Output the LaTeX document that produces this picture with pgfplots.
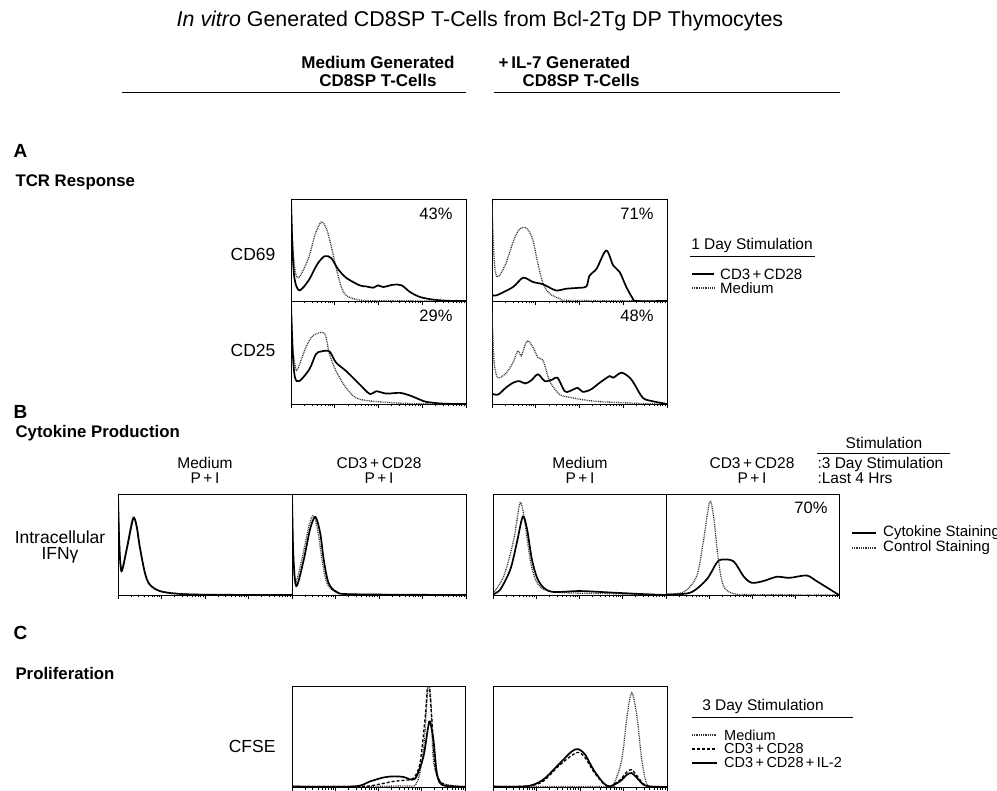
\documentclass[border=0pt]{standalone}
\usepackage{fontspec}
\setmainfont{Liberation Sans}
\usepackage{pgfplots}
\pgfplotsset{compat=1.18}
\newcommand\fs[1]{\fontsize{#1}{#1}\selectfont}
\tikzset{
 cs/.style={line width=1.7pt, black},
 cd/.style={line width=1.3pt, black!80, dash pattern=on 0.9pt off 0.9pt},
 cdash/.style={line width=1.3pt, black, dash pattern=on 3pt off 2pt},
 lg/.style={font=\fs{15}, anchor=west, inner sep=0pt},
 lgc/.style={font=\fs{14.5}, anchor=west, inner sep=0pt},
}
\pgfplotsset{
 facs/.style={scale only axis, anchor=north west, xmin=0, xmax=4, ymin=0, ymax=1,
   axis line style={line width=0.8pt},
   xtick={0,1,2,3,4},
   minor xtick={0.301,0.477,0.602,0.699,0.778,0.845,0.903,0.954,
                1.301,1.477,1.602,1.699,1.778,1.845,1.903,1.954,
                2.301,2.477,2.602,2.699,2.778,2.845,2.903,2.954,
                3.301,3.477,3.602,3.699,3.778,3.845,3.903,3.954},
   xticklabel=\empty, ytick=\empty,
   xtick pos=bottom, tick align=outside, major tick length=4pt, minor tick length=2.5pt,
   every tick/.style={black, line width=0.6pt},
   every axis plot/.append style={smooth, tension=0.5}},
}
\begin{document}
\begin{tikzpicture}[x=1pt,y=-1pt]
\useasboundingbox (0,0) rectangle (997,791);

% ---------------- Panel A ----------------
\begin{axis}[facs, at={(291pt,-199pt)}, width=175pt, height=102pt]
\addplot[cd] coordinates {(0,1.0) (0.04,0.55) (0.1,0.28) (0.19,0.235) (0.4,0.42) (0.55,0.65) (0.69,0.775) (0.8,0.72) (0.88,0.607) (1.03,0.33) (1.15,0.137) (1.26,0.055) (1.49,0.016) (1.88,0.003) (4,0)};
\addplot[cs] coordinates {(0,1.0) (0.03,0.55) (0.08,0.22) (0.19,0.104) (0.4,0.2) (0.6,0.36) (0.77,0.44) (0.92,0.42) (1.07,0.316) (1.26,0.228) (1.57,0.153) (1.72,0.143) (1.88,0.13) (1.99,0.153) (2.11,0.137) (2.34,0.16) (2.53,0.153) (2.72,0.088) (2.95,0.039) (3.26,0.013) (3.6,0.002) (4,0)};
\end{axis}
\begin{axis}[facs, at={(492pt,-199pt)}, width=175pt, height=102pt]
\addplot[cd] coordinates {(0,0.95) (0.05,0.4) (0.12,0.235) (0.3,0.35) (0.5,0.6) (0.62,0.7) (0.75,0.723) (0.85,0.68) (0.94,0.59) (1.05,0.365) (1.17,0.169) (1.32,0.072) (1.55,0.023) (1.8,0.005) (4,0)};
\addplot[cs] coordinates {(0,0.06) (0.1,0.055) (0.48,0.137) (0.71,0.228) (0.94,0.186) (1.17,0.163) (1.46,0.104) (1.69,0.12) (2.0,0.13) (2.16,0.143) (2.23,0.25) (2.39,0.316) (2.61,0.495) (2.77,0.349) (2.92,0.283) (3.07,0.137) (3.22,0.023) (3.3,0) (4,0)};
\end{axis}
\begin{axis}[facs, at={(291pt,-301pt)}, width=175pt, height=103pt]
\addplot[cd] coordinates {(0,0.97) (0.04,0.55) (0.1,0.36) (0.15,0.337) (0.34,0.549) (0.5,0.663) (0.73,0.696) (0.8,0.647) (0.88,0.484) (1.03,0.32) (1.26,0.157) (1.49,0.059) (1.88,0.026) (2.8,0.003) (4,0)};
\addplot[cs] coordinates {(0,0.97) (0.04,0.5) (0.09,0.26) (0.19,0.222) (0.42,0.337) (0.57,0.484) (0.69,0.51) (0.88,0.51) (1.03,0.402) (1.26,0.32) (1.57,0.19) (1.8,0.098) (1.95,0.124) (2.18,0.101) (2.49,0.108) (2.72,0.082) (2.95,0.042) (3.1,0.02) (3.5,0.003) (4,0)};
\end{axis}
\begin{axis}[facs, at={(492pt,-301pt)}, width=175pt, height=103pt]
\addplot[cd] coordinates {(0,0.9) (0.05,0.4) (0.14,0.255) (0.33,0.304) (0.48,0.402) (0.59,0.516) (0.67,0.467) (0.75,0.565) (0.82,0.614) (0.94,0.549) (1.05,0.451) (1.17,0.418) (1.32,0.222) (1.55,0.092) (1.85,0.059) (2.38,0.026) (3.5,0.003) (4,0)};
\addplot[cs] coordinates {(0,0.1) (0.14,0.092) (0.33,0.163) (0.5,0.21) (0.63,0.222) (0.76,0.199) (0.9,0.23) (1.05,0.288) (1.21,0.222) (1.39,0.239) (1.5,0.255) (1.66,0.124) (1.77,0.124) (1.96,0.157) (2.07,0.118) (2.26,0.141) (2.46,0.206) (2.69,0.271) (2.77,0.255) (2.96,0.304) (3.15,0.255) (3.26,0.189) (3.45,0.059) (3.68,0.026) (4,0)};
\end{axis}

% ---------------- Panel B ----------------
\begin{axis}[facs, at={(118pt,-494pt)}, width=174pt, height=101pt]
\addplot[cd] coordinates {(0,1.0) (0.03,0.55) (0.08,0.26) (0.2,0.47) (0.34,0.77) (0.42,0.68) (0.5,0.47) (0.62,0.21) (0.73,0.1) (0.96,0.04) (1.35,0.015) (2,0.004) (4,0)};
\addplot[cs] coordinates {(0,1.0) (0.03,0.5) (0.08,0.235) (0.2,0.45) (0.35,0.756) (0.43,0.68) (0.5,0.48) (0.62,0.218) (0.73,0.104) (0.96,0.039) (1.35,0.013) (2,0.003) (4,0)};
\end{axis}
\begin{axis}[facs, at={(292pt,-494pt)}, width=174pt, height=101pt]
\addplot[cd] coordinates {(0,1.0) (0.03,0.4) (0.08,0.12) (0.24,0.38) (0.4,0.7) (0.5,0.785) (0.6,0.62) (0.69,0.35) (0.8,0.12) (1.0,0.03) (1.4,0.007) (4,0)};
\addplot[cs] coordinates {(0,1.0) (0.03,0.4) (0.1,0.088) (0.27,0.349) (0.42,0.66) (0.54,0.772) (0.65,0.609) (0.73,0.349) (0.84,0.12) (1.03,0.03) (1.42,0.007) (4,0)};
\end{axis}
\begin{axis}[facs, at={(493pt,-494pt)}, width=173pt, height=101pt]
\addplot[cd] coordinates {(0,0.015) (0.25,0.187) (0.48,0.548) (0.63,0.915) (0.75,0.679) (0.86,0.351) (0.98,0.154) (1.17,0.056) (1.63,0.023) (2.8,0.013) (4,0)};
\addplot[cs] coordinates {(0,0.007) (0.17,0.056) (0.4,0.252) (0.55,0.515) (0.69,0.777) (0.79,0.646) (0.9,0.351) (1.02,0.17) (1.17,0.072) (1.4,0.03) (2.02,0.039) (2.79,0.023) (3.56,0.007) (4,0)};
\end{axis}
\begin{axis}[facs, at={(666pt,-494pt)}, width=173pt, height=101pt]
\addplot[cd] coordinates {(0,0.01) (0.41,0.03) (0.71,0.187) (0.87,0.548) (1.01,0.925) (1.1,0.777) (1.21,0.351) (1.33,0.089) (1.56,0.013) (2,0.003) (4,0)};
\addplot[cs] coordinates {(0,0.005) (0.56,0.023) (0.94,0.154) (1.17,0.318) (1.29,0.351) (1.56,0.334) (1.79,0.187) (1.98,0.121) (2.25,0.138) (2.56,0.18) (2.86,0.17) (3.25,0.193) (3.48,0.138) (3.79,0.056) (4,0)};
\end{axis}

% ---------------- Panel C ----------------
\begin{axis}[facs, at={(292pt,-686pt)}, width=173pt, height=101pt]
\addplot[cd] coordinates {(0,0.005) (2.5,0.01) (2.88,0.04) (3.04,0.37) (3.12,0.86) (3.16,1.05) (3.21,0.86) (3.27,0.27) (3.42,0.055) (3.73,0.013) (4,0.005)};
\addplot[cdash] coordinates {(0,0.005) (1.6,0.005) (1.96,0.023) (2.35,0.056) (2.58,0.066) (2.81,0.089) (2.96,0.237) (3.08,0.697) (3.15,1.05) (3.23,0.697) (3.31,0.204) (3.46,0.039) (3.8,0.005) (4,0.003)};
\addplot[cs] coordinates {(0,0.005) (1.42,0.005) (1.81,0.056) (2.12,0.095) (2.35,0.105) (2.58,0.099) (2.77,0.072) (2.88,0.105) (3.04,0.303) (3.15,0.599) (3.19,0.648) (3.27,0.467) (3.35,0.138) (3.46,0.023) (3.8,0.005) (4,0.003)};
\end{axis}
\begin{axis}[facs, at={(493pt,-686pt)}, width=174pt, height=101pt]
\addplot[cd] coordinates {(0,0.005) (2.6,0.005) (2.77,0.023) (2.96,0.27) (3.08,0.697) (3.19,0.934) (3.31,0.697) (3.42,0.27) (3.54,0.023) (3.7,0.005) (4,0)};
\addplot[cdash] coordinates {(0,0.005) (0.8,0.01) (1.15,0.056) (1.54,0.22) (1.92,0.34) (2.1,0.3) (2.31,0.155) (2.54,0.033) (2.69,0.007) (2.92,0.07) (3.08,0.15) (3.19,0.171) (3.31,0.11) (3.46,0.03) (3.62,0.005) (4,0)};
\addplot[cs] coordinates {(0,0.005) (0.77,0.007) (1.15,0.072) (1.54,0.237) (1.81,0.352) (1.96,0.375) (2.12,0.319) (2.31,0.171) (2.54,0.039) (2.69,0.007) (2.92,0.056) (3.08,0.122) (3.19,0.138) (3.31,0.089) (3.46,0.023) (3.62,0.005) (4,0)};
\end{axis}

% ---------------- Texts ----------------
\node[font=\fs{21.4}] at (480,21) {\textit{In vitro} Generated CD8SP T-Cells from Bcl-2Tg DP Thymocytes};
\node[font=\fs{17}\bfseries] at (378,62) {Medium Generated};
\node[font=\fs{17}\bfseries] at (378,80) {CD8SP T-Cells};
\node[font=\fs{17}\bfseries, anchor=west] at (495,62) {+\,IL-7 Generated};
\node[font=\fs{17}\bfseries, anchor=west] at (519,80) {CD8SP T-Cells};
\draw[line width=0.8pt] (122,92) -- (466,92);
\draw[line width=0.8pt] (494,92) -- (840,92);

\node[font=\fs{19}\bfseries, anchor=west] at (10,151) {A};
\node[font=\fs{16.8}\bfseries, anchor=west] at (12,182) {TCR Response};
\node[font=\fs{17.5}, anchor=east] at (279,254) {CD69};
\node[font=\fs{17.5}, anchor=east] at (279,350) {CD25};
\node[font=\fs{16.5}, anchor=east] at (456,214) {43\%};
\node[font=\fs{16.5}, anchor=east] at (657,214) {71\%};
\node[font=\fs{16.5}, anchor=east] at (456,316) {29\%};
\node[font=\fs{16.5}, anchor=east] at (657,316) {48\%};

\node[font=\fs{15.5}] at (752,245) {1 Day Stimulation};
\draw[line width=0.8pt] (690,256) -- (815,256);
\draw[cs,line width=1.4pt] (692,274) -- (714,274);
\node[lg] at (720,274) {CD3\,+\,CD28};
\draw[cd,line width=1.1pt] (692,288) -- (714,288);
\node[lg] at (720,288) {Medium};

\node[font=\fs{19}\bfseries, anchor=west] at (10,412) {B};
\node[font=\fs{16.8}\bfseries, anchor=west] at (12,433) {Cytokine Production};
\node[font=\fs{15.5}] at (205,463) {Medium};
\node[font=\fs{15.5}] at (205,478) {P\,+\,I};
\node[font=\fs{15.5}] at (379,463) {CD3\,+\,CD28};
\node[font=\fs{15.5}] at (379,478) {P\,+\,I};
\node[font=\fs{15.5}] at (580,463) {Medium};
\node[font=\fs{15.5}] at (580,478) {P\,+\,I};
\node[font=\fs{15.5}] at (752,463) {CD3\,+\,CD28};
\node[font=\fs{15.5}] at (752,478) {P\,+\,I};
\node[font=\fs{15.5}] at (884,443) {Stimulation};
\draw[line width=0.8pt] (817,453) -- (950,453);
\node[font=\fs{15.5}, anchor=west] at (814,464) {:3 Day Stimulation};
\node[font=\fs{15.5}, anchor=west] at (814,478) {:Last 4 Hrs};
\node[font=\fs{16.5}, anchor=east] at (831,508) {70\%};
\node[font=\fs{17.5}] at (60,537) {Intracellular};
\node[font=\fs{17.5}] at (60,555) {IFNγ};
\draw[cs,line width=1.4pt] (852,533) -- (876,533);
\node[lg] at (883,533) {Cytokine Staining};
\draw[cd,line width=1.1pt] (852,548) -- (876,548);
\node[lg] at (883,548) {Control Staining};

\node[font=\fs{19}\bfseries, anchor=west] at (10,633) {C};
\node[font=\fs{16.8}\bfseries, anchor=west] at (12,673) {Proliferation};
\node[font=\fs{17.5}, anchor=east] at (279,746) {CFSE};
\node[font=\fs{15.5}] at (763,706) {3 Day Stimulation};
\draw[line width=0.8pt] (692,717) -- (853,717);
\draw[cd,line width=1.1pt] (692,735) -- (717,735);
\node[lgc] at (724,735) {Medium};
\draw[cdash,line width=1.1pt] (692,749) -- (717,749);
\node[lgc] at (724,749) {CD3\,+\,CD28};
\draw[cs,line width=1.4pt] (692,763) -- (717,763);
\node[lgc] at (724,763) {CD3\,+\,CD28\,+\,IL-2};
\end{tikzpicture}
\end{document}
